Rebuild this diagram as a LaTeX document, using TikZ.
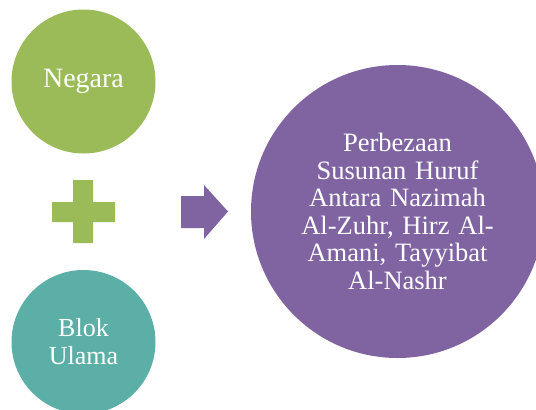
\documentclass[tikz,border=0pt]{standalone}
\usepackage{fontspec}
\setmainfont{Liberation Serif}
\definecolor{cgreen}{HTML}{9BBB59}
\definecolor{cteal}{HTML}{5CAFA6}
\definecolor{cpurple}{HTML}{8064A2}
\begin{document}
\begin{tikzpicture}[x=1pt,y=-1pt,
  bubble/.style={circle,inner sep=0pt,text=white,align=center},
  small/.style={bubble,minimum size=144pt},
  big/.style={bubble,minimum size=293pt,fill=cpurple,text width=220pt,
    font=\fontsize{26.5}{27.5}\selectfont}]
\useasboundingbox (0,0) rectangle (536,410);
\node[small,fill=cgreen,font=\fontsize{28}{30}\selectfont] (neg) at (83.5,81.5) {Negara};
\node[small,fill=cteal,font=\fontsize{26}{28}\selectfont] (blok) at (83.5,342) {Blok\\Ulama};
\node[big] (res) at (397.5,211.5) {Perbezaan\\Susunan Huruf\\Antara Nazimah\\Al-Zuhr, Hirz Al-\\Amani, Tayyibat\\Al-Nashr};
\fill[cgreen] (73,180) -- (93,180) -- (93,202) -- (115,202) -- (115,222) -- (93,222)
  -- (93,243) -- (73,243) -- (73,222) -- (52,222) -- (52,202) -- (73,202) -- cycle;
\fill[cpurple] (181,196) -- (204,196) -- (204,185) -- (228,211.5) -- (204,239)
  -- (204,228) -- (181,228) -- cycle;
\end{tikzpicture}
\end{document}
